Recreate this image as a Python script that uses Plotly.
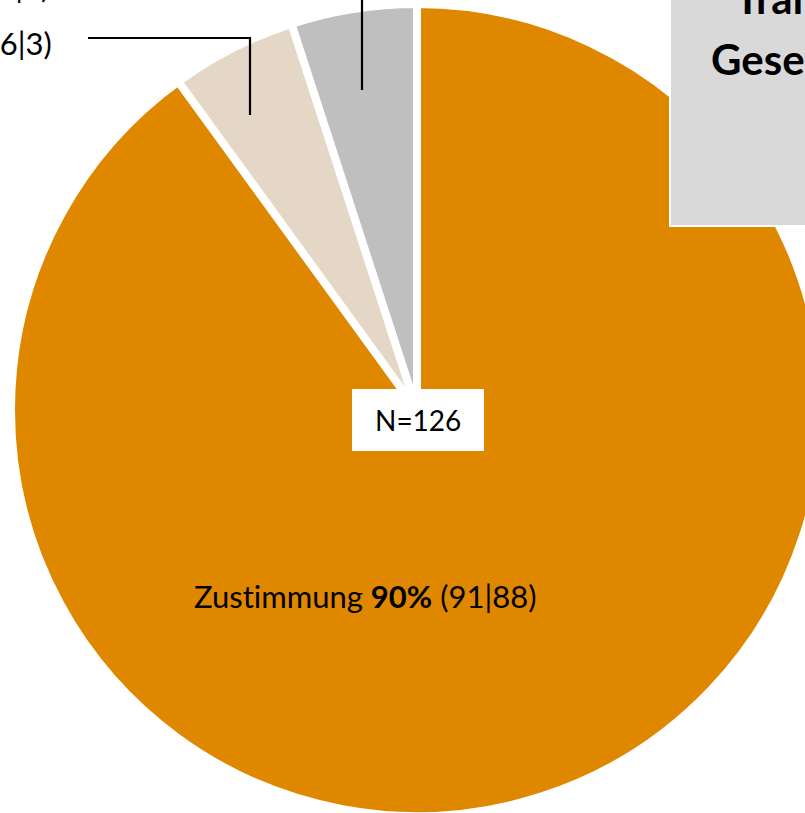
import plotly.graph_objects as go

# ---- data ----
categories = ["Zustimmung", "Ablehnung", "Weiß nicht"]
shares = [90, 5, 5]
sub_a = [91, 6, 3]
sub_b = [88, 3, 9]
colors = ["#E08700", "#E4D7C6", "#BFBFBF"]
n_total = 126
title_lines = ["Transfer", "Gesellschaft"]

W, H = 840, 830
FONT = "Lato, Carlito, Calibri, sans-serif"


def px(x):
    return x / W


def py(y):
    return 1 - y / H


def no_lig(s):
    # avoid the "ti" ligature of the fallback font
    return s.replace("ti", "t\u200ci").replace("fi", "f\u200ci")


def label_text(i):
    return f"{no_lig(categories[i])} <b>{shares[i]}%</b> ({sub_a[i]}|{sub_b[i]})"


cx, cy, r = 417, 410, 406

fig = go.Figure()
fig.add_trace(go.Pie(
    labels=categories,
    values=shares,
    sort=False,
    direction="clockwise",
    rotation=0,
    textinfo="none",
    hoverinfo="label+percent",
    marker=dict(colors=colors, line=dict(color="white", width=8)),
    domain=dict(x=[px(cx - r), px(cx + r)], y=[py(cy + r), py(cy - r)]),
    showlegend=False,
))

shapes = []
# title box
shapes.append(dict(type="rect", xref="paper", yref="paper",
                   x0=px(670), x1=px(1000), y0=py(226), y1=py(-20),
                   fillcolor="#D9D9D9", line=dict(color="white", width=2)))
# N box
shapes.append(dict(type="rect", xref="paper", yref="paper",
                   x0=px(352), x1=px(484), y0=py(451), y1=py(389),
                   fillcolor="white", line=dict(width=0)))
# leader lines
shapes.append(dict(type="path", xref="paper", yref="paper",
                   path=f"M {px(88)} {py(38)} L {px(250)} {py(38)} L {px(250)} {py(115)}",
                   line=dict(color="black", width=2.2)))
shapes.append(dict(type="path", xref="paper", yref="paper",
                   path=f"M {px(90)} {py(-14)} L {px(362)} {py(-14)} L {px(362)} {py(90)}",
                   line=dict(color="black", width=2.2)))

annotations = [
    dict(text=label_text(0), x=px(365), y=py(596), xanchor="center", yanchor="middle",
         font=dict(size=31, color="black", family=FONT)),
    dict(text=label_text(1), x=px(54), y=py(43), xanchor="right", yanchor="middle",
         font=dict(size=31, color="black", family=FONT)),
    dict(text=label_text(2), x=px(51), y=py(-14), xanchor="right", yanchor="middle",
         font=dict(size=31, color="black", family=FONT)),
    dict(text=f"N={n_total}", x=px(418), y=py(420), xanchor="center", yanchor="middle",
         font=dict(size=28, color="black", family=FONT)),
    dict(text=f"<b>{title_lines[0]}</b>", x=px(733), y=py(-2), xanchor="left", yanchor="middle",
         font=dict(size=42, color="black", family=FONT)),
    dict(text=f"<b>{title_lines[1]}</b>", x=px(709), y=py(59), xanchor="left", yanchor="middle",
         font=dict(size=42, color="black", family=FONT)),
]
for a in annotations:
    a.update(xref="paper", yref="paper", showarrow=False)

fig.update_layout(
    width=W, height=H,
    margin=dict(l=0, r=0, t=0, b=0),
    paper_bgcolor="white", plot_bgcolor="white",
    shapes=shapes, annotations=annotations,
    font=dict(family=FONT),
)

fig.write_html(
    "out.html",
    config={"displayModeBar": False},
    post_script="document.documentElement.style.overflow='hidden';"
                "document.body.style.overflow='hidden';document.body.style.margin='0';",
)
